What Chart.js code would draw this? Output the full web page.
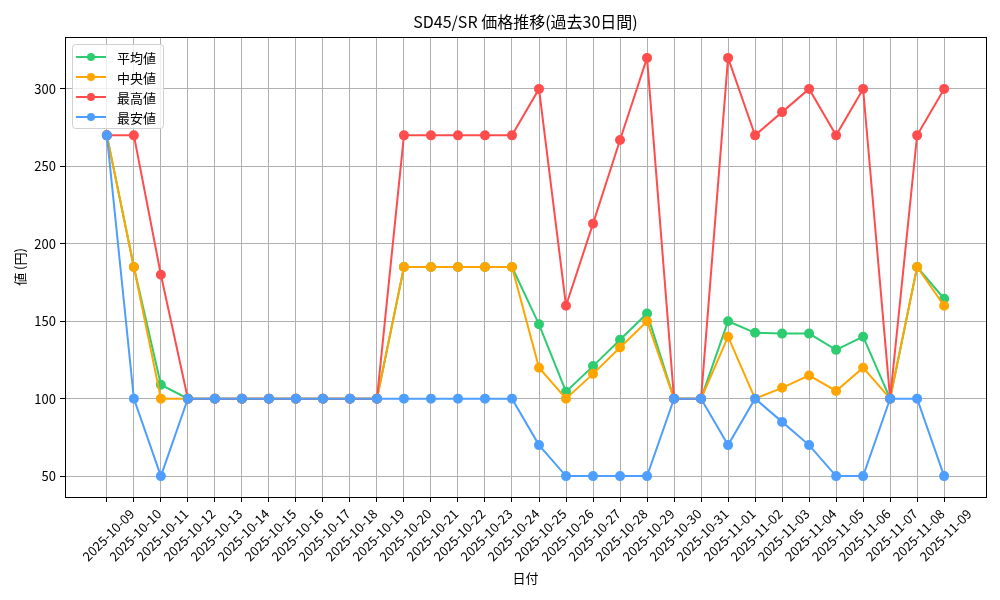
<!DOCTYPE html>
<html>
<head>
<meta charset="utf-8">
<script src="https://cdn.jsdelivr.net/npm/chart.js@4"></script>
<style>
    html, body { margin: 0; padding: 0; background: #fff; }
    #wrap { width: 1000px; height: 600px; }
</style>
</head>
<body>
<div id="wrap"><canvas id="priceChart" width="1000" height="600"></canvas></div>
<script>
const dates = [
    "2025-10-09", "2025-10-10", "2025-10-11", "2025-10-12", "2025-10-13", "2025-10-14",
    "2025-10-15", "2025-10-16", "2025-10-17", "2025-10-18", "2025-10-19", "2025-10-20",
    "2025-10-21", "2025-10-22", "2025-10-23", "2025-10-24", "2025-10-25", "2025-10-26",
    "2025-10-27", "2025-10-28", "2025-10-29", "2025-10-30", "2025-10-31", "2025-11-01",
    "2025-11-02", "2025-11-03", "2025-11-04", "2025-11-05", "2025-11-06", "2025-11-07",
    "2025-11-08", "2025-11-09"
];
const avgValues = [270, 185, 109, 100, 100, 100, 100, 100, 100, 100, 100, 185, 185, 185, 185, 185,
    148, 104.5, 121, 138, 155, 100, 100, 150, 142.5, 142, 142, 131.5, 140, 100, 185, 164.5];
const medianValues = [270, 185, 100, 100, 100, 100, 100, 100, 100, 100, 100, 185, 185, 185, 185, 185,
    120, 100, 116, 133, 150, 100, 100, 140, 100, 107, 115, 105, 120, 100, 185, 160];
const maxValues = [270, 270, 180, 100, 100, 100, 100, 100, 100, 100, 100, 270, 270, 270, 270, 270,
    300, 160, 213, 267, 320, 100, 100, 320, 270, 285, 300, 270, 300, 100, 270, 300];
const minValues = [270, 100, 50, 100, 100, 100, 100, 100, 100, 100, 100, 100, 100, 100, 100, 100,
    70, 50, 50, 50, 50, 100, 100, 70, 100, 85, 70, 50, 50, 100, 100, 50];
const yTicks = [50, 100, 150, 200, 250, 300];
const chartTitle = "SD45/SR 価格推移(過去30日間)";

const FONT = "'Noto Sans CJK JP', 'Noto Sans', sans-serif";

function toPoints(values) {
    return values.map((v, i) => ({ x: i, y: v }));
}

const series = [
    { label: "平均値", data: avgValues, color: "#2ecc71", order: 3 },
    { label: "中央値", data: medianValues, color: "#ffa500", order: 2 },
    { label: "最高値", data: maxValues, color: "#ff4d4d", order: 1 },
    { label: "最安値", data: minValues, color: "#4d9eff", order: 0 }
];

// frame on all four sides, title over the axes, legend box inside (matplotlib style)
const framePlugin = {
    id: "frame",
    afterDatasetsDraw(chart) {
        const { ctx, chartArea: a } = chart;
        ctx.save();
        ctx.strokeStyle = "#000";
        ctx.lineWidth = 1;
        ctx.strokeRect(Math.round(a.left) + 0.5, Math.round(a.top) + 0.5,
            Math.round(a.right - a.left), Math.round(a.bottom - a.top));

        ctx.fillStyle = "#000";
        ctx.font = "16px " + FONT;
        ctx.textAlign = "center";
        ctx.textBaseline = "middle";
        ctx.fillText(chartTitle, (a.left + a.right) / 2, 22);

        // legend
        const bx = 72, by = 44, bw = 91, bh = 84;
        ctx.beginPath();
        ctx.roundRect(bx + 0.5, by + 0.5, bw, bh, 3);
        ctx.fillStyle = "rgba(255,255,255,0.8)";
        ctx.fill();
        ctx.strokeStyle = "#d0d0d0";
        ctx.stroke();
        ctx.font = "13px " + FONT;
        ctx.textBaseline = "middle";
        ctx.textAlign = "left";
        series.forEach((s, i) => {
            const y = 57 + i * 20;
            ctx.strokeStyle = s.color;
            ctx.lineWidth = 2;
            ctx.beginPath();
            ctx.moveTo(76, y);
            ctx.lineTo(106, y);
            ctx.stroke();
            ctx.fillStyle = s.color;
            ctx.beginPath();
            ctx.arc(91, y, 4, 0, Math.PI * 2);
            ctx.fill();
            ctx.fillStyle = "#000";
            ctx.fillText(s.label, 117, y + 1);
        });
        ctx.restore();
    }
};

new Chart(document.getElementById("priceChart").getContext("2d"), {
    type: "line",
    data: {
        datasets: series.map(s => ({
            label: s.label,
            data: toPoints(s.data),
            borderColor: s.color,
            backgroundColor: s.color,
            pointBackgroundColor: s.color,
            pointBorderColor: s.color,
            borderWidth: 2,
            pointRadius: 4,
            pointHoverRadius: 4,
            tension: 0,
            order: s.order
        }))
    },
    options: {
        responsive: false,
        animation: false,
        devicePixelRatio: 1,
        layout: { padding: { left: 0, right: 14, top: 37, bottom: 0 } },
        plugins: {
            legend: { display: false },
            tooltip: { enabled: false },
            title: { display: false }
        },
        scales: {
            x: {
                type: "linear",
                min: -1.55,
                max: 32.55,
                afterBuildTicks(scale) {
                    scale.ticks = dates.map((d, i) => ({ value: i }));
                },
                afterFit(scale) { scale.height = 103; },
                ticks: {
                    callback: (v) => dates[v],
                    minRotation: 45,
                    maxRotation: 45,
                    autoSkip: false,
                    padding: 4,
                    labelOffset: 25,
                    color: "#000",
                    font: { family: FONT, size: 13 }
                },
                grid: { color: "#b0b0b0", lineWidth: 1, tickColor: "#000", tickLength: 5 },
                border: { color: "#000" },
                title: {
                    display: true,
                    text: "日付",
                    color: "#000",
                    font: { family: FONT, size: 13, lineHeight: 1.2 },
                    padding: { top: 0, bottom: 14 }
                }
            },
            y: {
                min: 36.5,
                max: 333.5,
                afterBuildTicks(scale) {
                    scale.ticks = yTicks.map(v => ({ value: v }));
                },
                afterFit(scale) { scale.width = 65; },
                ticks: {
                    padding: 4,
                    color: "#000",
                    font: { family: FONT, size: 13 }
                },
                grid: { color: "#b0b0b0", lineWidth: 1, tickColor: "#000", tickLength: 5 },
                border: { color: "#000" },
                title: {
                    display: true,
                    text: "値 (円)",
                    color: "#000",
                    font: { family: FONT, size: 13, lineHeight: 1.2 },
                    padding: { top: 12, bottom: 0 }
                }
            }
        }
    },
    plugins: [framePlugin]
});
</script>
</body>
</html>
